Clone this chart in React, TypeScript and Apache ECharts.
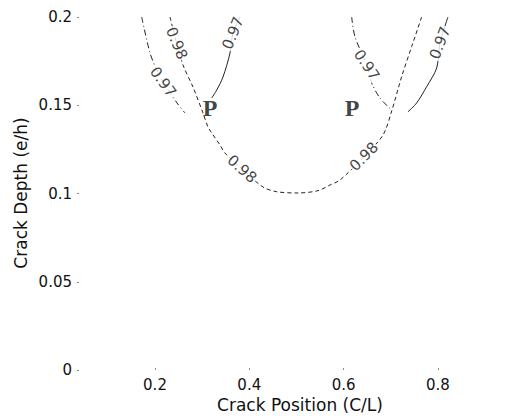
import React, { useEffect, useRef } from "react";
import * as echarts from "echarts";

// Contour lines (x = crack position C/L, y = crack depth e/h)
const leftOuter097: [number, number][] = [
  [0.1718, 0.2], [0.1894, 0.1796], [0.2021, 0.1711], [0.217, 0.1632],
  [0.2467, 0.1513], [0.2636, 0.1456],
];
const contour098: [number, number][] = [
  [0.2318, 0.2], [0.246, 0.1851], [0.2594, 0.1728], [0.2806, 0.1603],
  [0.3018, 0.1456], [0.3124, 0.1377], [0.3203, 0.1343], [0.3379, 0.1275],
  [0.3485, 0.1229], [0.3845, 0.1139], [0.429, 0.1037], [0.4581, 0.101],
  [0.5033, 0.1003], [0.5457, 0.1016], [0.5711, 0.1048], [0.5923, 0.1076],
  [0.6433, 0.1209], [0.6836, 0.1331], [0.702, 0.1467], [0.7232, 0.1662],
  [0.7444, 0.1832], [0.7656, 0.2],
];
const leftInner097: [number, number][] = [
  [0.3803, 0.2], [0.3654, 0.1909], [0.3591, 0.1796], [0.3442, 0.166],
  [0.3309, 0.1586], [0.3203, 0.1541],
];
const rightInner097: [number, number][] = [
  [0.6172, 0.2], [0.6242, 0.1888], [0.649, 0.1728], [0.6596, 0.1626],
  [0.6772, 0.1541], [0.702, 0.1473],
];
const rightOuter097: [number, number][] = [
  [0.8214, 0.2], [0.8045, 0.1853], [0.7975, 0.1711], [0.7762, 0.1605],
  [0.755, 0.1513], [0.7366, 0.1463],
];

// Contour labels: [x, y, value]
const contourLabels: [number, number, string][] = [
  [0.217, 0.1632, "0.97"],
  [0.246, 0.1851, "0.98"],
  [0.3845, 0.1139, "0.98"],
  [0.6433, 0.1209, "0.98"],
  [0.3654, 0.1909, "0.97"],
  [0.649, 0.1728, "0.97"],
  [0.8045, 0.1853, "0.97"],
];
const contourLabelAngles = [-54, -68, -42, 45, 68, -56, 69];

// Marked points "P"
const pPoints: [number, number][] = [
  [0.3167, 0.1484],
  [0.618, 0.1484],
];

const xTicks = [0.2, 0.4, 0.6, 0.8];

export default function App() {
  const ref = useRef<HTMLDivElement>(null);
  useEffect(() => {
    if (!ref.current) return;
    const chart = echarts.init(ref.current, null, { renderer: "svg" });
    const lineColor = "#222";
    const mkLine = (data: [number, number][], type: any) => ({
      type: "line",
      data,
      showSymbol: false,
      symbol: "none",
      smooth: 0.3,
      lineStyle: { color: lineColor, width: 1, type },
      silent: true,
      z: 2,
    });
    chart.setOption({
      animation: false,
      backgroundColor: "#ffffff",
      grid: { left: 60.7, right: 1.7, top: 17, bottom: 46 },
      xAxis: {
        type: "value",
        min: 0,
        max: 0.96,
        interval: 0.2,
        splitLine: { show: false },
        axisLine: { show: false },
        axisTick: {
          show: true,
          inside: true,
          length: 2,
          customValues: xTicks,
          lineStyle: { color: "#888", width: 1 },
        },
        axisLabel: {
          customValues: xTicks,
          color: "#111",
          fontFamily: "DejaVu Sans",
          fontSize: 15,
          margin: 7,
        },
      },
      yAxis: {
        type: "value",
        min: 0,
        max: 0.2,
        interval: 0.05,
        offset: -16.3,
        splitLine: { show: false },
        axisLine: { show: false },
        axisTick: {
          show: true,
          inside: true,
          length: 2,
          lineStyle: { color: "#888", width: 1 },
        },
        axisLabel: {
          color: "#111",
          fontFamily: "DejaVu Sans",
          fontSize: 15,
          margin: 5,
        },
      },
      series: [
        mkLine(leftOuter097, [6, 3, 1, 3]),
        mkLine(contour098, [4, 3]),
        mkLine(leftInner097, "solid"),
        mkLine(rightInner097, [6, 3, 1, 3]),
        mkLine(rightOuter097, "solid"),
        {
          type: "scatter",
          data: contourLabels.map((d, i) => ({
            value: [d[0], d[1]],
            label: {
              show: true,
              formatter: d[2],
              rotate: contourLabelAngles[i],
            },
          })),
          symbolSize: 0,
          silent: true,
          z: 5,
          label: {
            show: true,
            position: "inside",
            color: "#111",
            fontFamily: "DejaVu Sans",
            fontSize: 15,
            backgroundColor: "#ffffff",
            padding: [0, 1],
          },
        },
        {
          type: "scatter",
          data: pPoints,
          symbolSize: 0,
          silent: true,
          z: 6,
          label: {
            show: true,
            position: "inside",
            formatter: "P",
            color: "#111",
            fontFamily: "Liberation Serif",
            fontWeight: "bold",
            fontSize: 24,
          },
        },
      ],
      graphic: [
        {
          type: "text",
          x: 300,
          y: 405,
          style: {
            text: "Crack Position (C/L)",
            fontFamily: "DejaVu Sans",
            fontSize: 17,
            fill: "#111",
            align: "center",
            verticalAlign: "middle",
          },
        },
        {
          type: "text",
          x: 21,
          y: 193,
          rotation: Math.PI / 2,
          style: {
            text: "Crack Depth (e/h)",
            fontFamily: "DejaVu Sans",
            fontSize: 17,
            fill: "#111",
            align: "center",
            verticalAlign: "middle",
          },
        },
      ],
    });
    return () => chart.dispose();
  }, []);
  return (
    <div
      ref={ref}
      style={{ position: "fixed", left: 0, top: 0, width: 515, height: 416 }}
    />
  );
}
